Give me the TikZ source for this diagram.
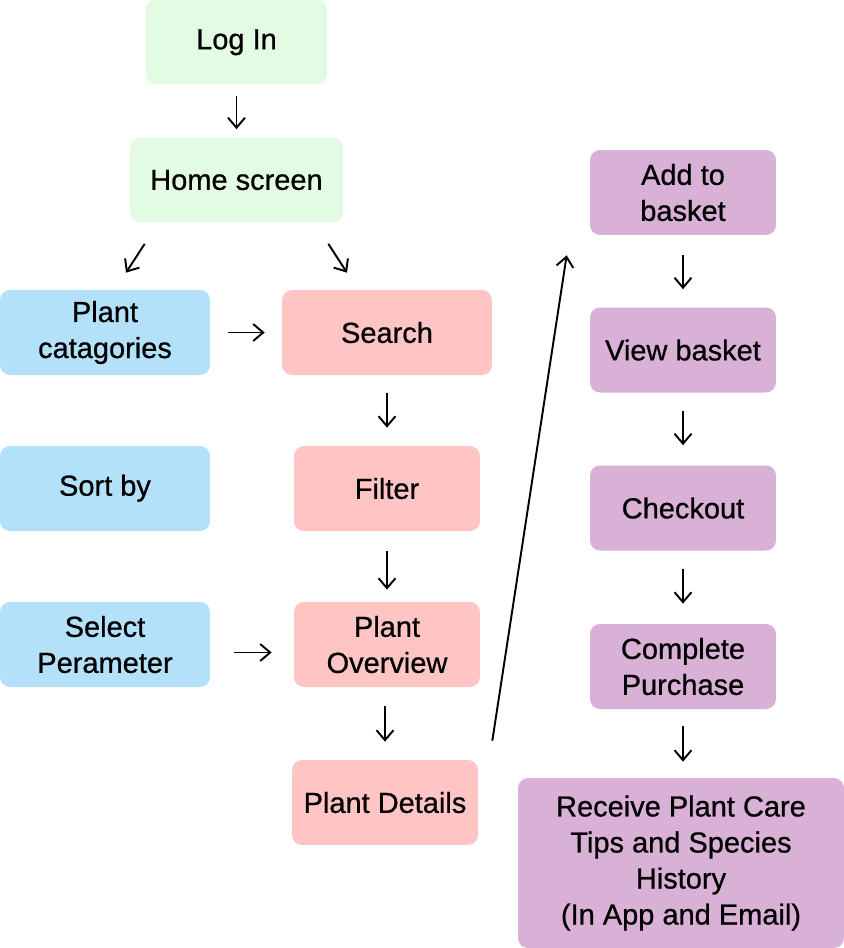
\documentclass[tikz,border=0pt]{standalone}
\usepackage{fontspec}
\setmainfont{Liberation Sans}[FakeBold=0.7]
\usetikzlibrary{arrows.meta}
\definecolor{loggreen}{HTML}{E3FBE3}
\definecolor{catblue}{HTML}{B3E1FA}
\definecolor{searchpink}{HTML}{FFC5C5}
\definecolor{basketpurple}{HTML}{D9B1D6}
\begin{document}
\begin{tikzpicture}[x=0.02cm,y=-0.02cm,
	box/.style={rounded corners=0.2cm, align=center, inner sep=0pt, minimum height=1.7cm, font=\fontsize{16.5}{20.5}\selectfont},
	greenbox/.style={box, fill=loggreen},
	bluebox/.style={box, fill=catblue, minimum width=4.2cm},
	pinkbox/.style={box, fill=searchpink, minimum width=3.72cm},
	purplebox/.style={box, fill=basketpurple, minimum width=3.72cm},
	arr/.style={-{Straight Barb[length=0.2cm,width=0.34cm]}, line width=1.1pt}]
	\useasboundingbox (0,0) rectangle (844,948);

	% top
	\node[greenbox, minimum width=3.62cm] (login) at (236.5,42) {\strut Log In};
	\node[greenbox, minimum width=4.26cm] (home) at (236.5,180) {Home screen};

	% left column
	\node[bluebox] (cat) at (105,332.5) {Plant\\catagories};
	\node[bluebox] (sort) at (105,488.5) {\strut Sort by};
	\node[bluebox] (select) at (105,644.5) {Select\\Perameter};

	% middle column
	\node[pinkbox, minimum width=4.2cm] (search) at (387,332.5) {Search};
	\node[pinkbox] (filter) at (387,488.5) {Filter};
	\node[pinkbox] (overview) at (387,644.5) {Plant\\Overview};
	\node[pinkbox] (details) at (385,802.5) {Plant Details};

	% right column
	\node[purplebox] (add) at (683,192.5) {Add to\\basket};
	\node[purplebox] (view) at (683,350) {View basket};
	\node[purplebox] (checkout) at (683,508) {Checkout};
	\node[purplebox] (complete) at (683,666.5) {Complete\\Purchase};
	\node[box, fill=basketpurple, minimum width=6.52cm, minimum height=3.4cm] (receive) at (681,863) {Receive Plant Care\\Tips and Species\\History\\(In App and Email)};

	% arrows
	\draw[arr, shorten <=0.22cm, shorten >=0.16cm] (login) -- (home);
	\draw[arr] ([xshift=0.3cm,yshift=-0.42cm]home.south west) -- ([xshift=0.42cm,yshift=0.34cm]cat.north);
	\draw[arr] ([xshift=-0.3cm,yshift=-0.42cm]home.south east) -- ([xshift=-0.8cm,yshift=0.34cm]search.north);
	\draw[arr, shorten <=0.36cm, shorten >=0.34cm] (cat) -- (search);
	\draw[arr, shorten <=0.36cm, shorten >=0.36cm] (search) -- (filter);
	\draw[arr, shorten <=0.4cm, shorten >=0.24cm] (filter) -- (overview);
	\draw[arr, shorten <=0.48cm, shorten >=0.44cm] ([yshift=-0.16cm]select.east) -- ([yshift=-0.16cm]overview.west);
	\draw[arr, shorten <=0.38cm, shorten >=0.36cm] (details.north |- overview.south) -- (details.north);
	\draw[arr] ([xshift=0.28cm,yshift=0.38cm]details.north east) -- ([xshift=-0.46cm,yshift=-0.4cm]add.south west);
	\draw[arr, shorten <=0.4cm, shorten >=0.36cm] (add) -- (view);
	\draw[arr, shorten <=0.36cm, shorten >=0.4cm] (view) -- (checkout);
	\draw[arr, shorten <=0.36cm, shorten >=0.4cm] (checkout) -- (complete);
	\draw[arr, shorten <=0.34cm, shorten >=0.32cm] (complete.south) -- (complete.south |- receive.north);
\end{tikzpicture}
\end{document}
